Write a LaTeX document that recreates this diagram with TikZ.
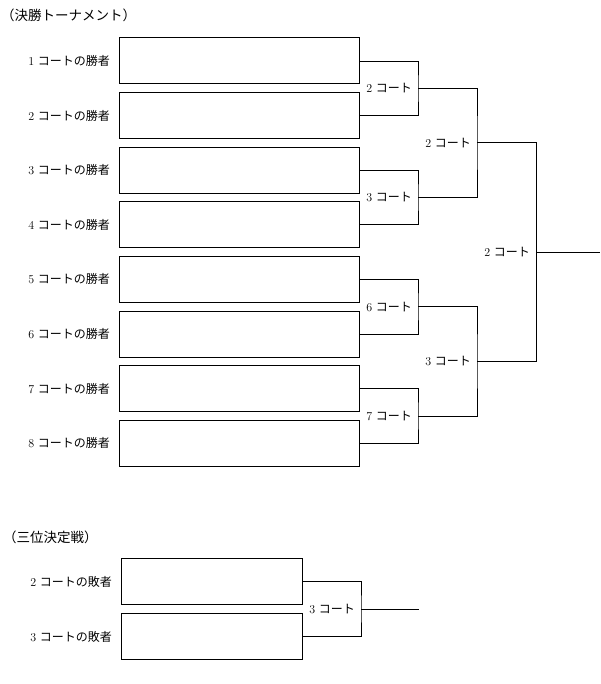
\documentclass[tikz,border=0pt]{standalone}
\usepackage{fontspec}
\usepackage{tikz}
\usetikzlibrary{positioning}
\newfontfamily\jp{Noto Sans CJK JP}
\newcommand{\court}[1]{#1\hspace{3.5pt}{\jp コート}}

\begin{document}
\begin{tikzpicture}[
  x=1pt, y=-1pt,
  slot/.style={draw, line width=1pt, outer sep=0pt,
               minimum width=240pt, minimum height=46pt},
  smallslot/.style={slot, minimum width=181pt},
  entry/.style={font=\fontsize{12}{14}\selectfont, inner sep=0pt},
  round/.style={font=\fontsize{12}{14}\selectfont, inner sep=0pt},
  heading/.style={font=\fontsize{13.5}{16}\selectfont\jp, inner sep=0pt, anchor=west},
  line/.style={line width=0.8pt}
]
\useasboundingbox (0,0) rectangle (601,684);

% Final tournament
\node[heading] (h1) at (1,15) {（決勝トーナメント）};
\node[slot] (b1) at (239,61) {};
\node[slot, below=8.6pt of b1] (b2) {};
\node[slot, below=8.6pt of b2] (b3) {};
\node[slot, below=8.6pt of b3] (b4) {};
\node[slot, below=8.6pt of b4] (b5) {};
\node[slot, below=8.6pt of b5] (b6) {};
\node[slot, below=8.6pt of b6] (b7) {};
\node[slot, below=8.6pt of b7] (b8) {};

\node[entry, left=9pt of b1] (e1) {1\hspace{3.5pt}{\jp コートの勝者}};
\node[entry, left=9pt of b2] (e2) {2\hspace{3.5pt}{\jp コートの勝者}};
\node[entry, left=9pt of b3] (e3) {3\hspace{3.5pt}{\jp コートの勝者}};
\node[entry, left=9pt of b4] (e4) {4\hspace{3.5pt}{\jp コートの勝者}};
\node[entry, left=9pt of b5] (e5) {5\hspace{3.5pt}{\jp コートの勝者}};
\node[entry, left=9pt of b6] (e6) {6\hspace{3.5pt}{\jp コートの勝者}};
\node[entry, left=9pt of b7] (e7) {7\hspace{3.5pt}{\jp コートの勝者}};
\node[entry, left=9pt of b8] (e8) {8\hspace{3.5pt}{\jp コートの勝者}};

% Match points
\coordinate (m1) at (418,88.3);
\coordinate (m2) at (418,197.5);
\coordinate (m3) at (418,306.7);
\coordinate (m4) at (418,415.9);
\coordinate (s1) at (477,142.9);
\coordinate (s2) at (477,361.3);
\coordinate (f) at (536,252.1);
\coordinate (fend) at (600,252.1);

\node[round, left=6pt of m1] (r1) {\court{2}};
\node[round, left=6pt of m2] (r2) {\court{3}};
\node[round, left=6pt of m3] (r3) {\court{6}};
\node[round, left=6pt of m4] (r4) {\court{7}};
\node[round, left=6pt of s1] (r5) {\court{2}};
\node[round, left=6pt of s2] (r6) {\court{3}};
\node[round, left=6pt of f] (r7) {\court{2}};

% Brackets
\draw[line] (b1.east) -| (m1) |- (b2.east);
\draw[line] (b3.east) -| (m2) |- (b4.east);
\draw[line] (b5.east) -| (m3) |- (b6.east);
\draw[line] (b7.east) -| (m4) |- (b8.east);
\draw[line] (m1) -| (s1) |- (m2);
\draw[line] (m3) -| (s2) |- (m4);
\draw[line] (s1) -| (f) |- (s2);
\draw[line] (f) -- (fend);

% Third place match
\node[heading] (h2) at (3,537) {（三位決定戦）};
\node[smallslot] (c1) at (211.5,581.5) {};
\node[smallslot, below=9pt of c1] (c2) {};
\node[entry, left=9pt of c1] (d1) {2\hspace{3.5pt}{\jp コートの敗者}};
\node[entry, left=9pt of c2] (d2) {3\hspace{3.5pt}{\jp コートの敗者}};

\coordinate (t) at (361,609);
\coordinate (tend) at (419,609);
\node[round, left=6pt of t] (r8) {\court{3}};
\draw[line] (c1.east) -| (t) |- (c2.east);
\draw[line] (t) -- (tend);
\end{tikzpicture}
\end{document}
